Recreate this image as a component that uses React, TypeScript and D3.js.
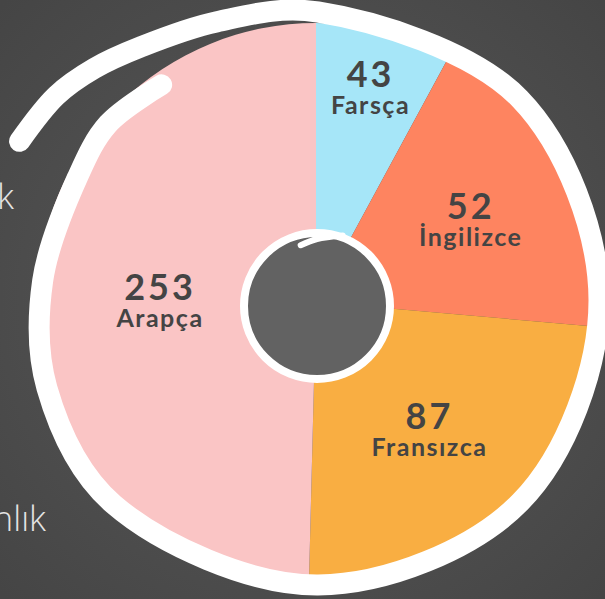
import { useEffect, useRef } from 'react'
import * as d3 from 'd3'

const languages = ['Farsça', 'İngilizce', 'Fransızca', 'Arapça']
const counts = [43, 52, 87, 253]
// sweep of each slice as drawn in the picture (percent of the circle) - the drawing is not to scale
const sliceShare = [7.9, 18.5, 24.0, 49.6]
const sliceColors = ['#a6e6f8', '#fe8460', '#f9ae42', '#fac5c5']
const sideWords = ['k', 'nlık']

// hand drawn ring round the donut: [angle deg, radius]
const ringPoints: [number, number][] = [
  [298, 338], [308, 332], [316, 322], [325, 309], [340, 296], [360, 288],
  [405, 285], [450, 281], [495, 286], [540, 285], [585, 289], [612, 285],
  [634, 276], [657, 270], [670, 274], [684, 266]
]

export default function App() {
  const svgRef = useRef<SVGSVGElement>(null)

  useEffect(() => {
    if (!svgRef.current) return
    const width = 605
    const height = 599

    const svg = d3.select(svgRef.current)
    svg.selectAll('*').remove()
    svg.attr('width', width).attr('height', height)

    // chalkboard background
    const defs = svg.append('defs')
    const bg = defs.append('radialGradient').attr('id', 'board')
      .attr('cx', '50%').attr('cy', '50%').attr('r', '70%')
    bg.append('stop').attr('offset', '0%').attr('stop-color', '#5a5a5a')
    bg.append('stop').attr('offset', '100%').attr('stop-color', '#454545')

    svg.append('rect')
      .attr('width', width)
      .attr('height', height)
      .attr('fill', 'url(#board)')

    // clipped words from the slide behind
    svg.append('g')
      .selectAll('text')
      .data(sideWords)
      .enter().append('text')
      .text(d => d)
      .attr('x', (d, i) => i === 0 ? 14 : 46)
      .attr('y', (d, i) => i === 0 ? 209 : 531)
      .attr('text-anchor', 'end')
      .style('font-family', '"Open Sans", sans-serif')
      .style('font-weight', '300')
      .style('font-size', '35px')
      .style('fill', '#e4e4e4')

    const cx = 316
    const cy = 302
    const outerR = 279

    const pie = d3.pie<number>().sort(null).value(d => d)
    const arcs = pie(sliceShare)

    const arc = d3.arc<d3.PieArcDatum<number>>()
      .innerRadius(60)
      .outerRadius(outerR)

    const g = svg.append('g').attr('transform', `translate(${cx},${cy})`)

    g.selectAll('path')
      .data(arcs)
      .enter().append('path')
      .attr('d', arc)
      .attr('fill', (d, i) => sliceColors[i])

    // narrow slices get their label further out
    const labelR = d3.scaleLinear().domain([0.5, 1.2, 3.1]).range([222, 173, 156]).clamp(true)

    const labels = g.selectAll('g.lbl')
      .data(arcs)
      .enter().append('g')
      .attr('class', 'lbl')
      .attr('transform', d => {
        const mid = (d.startAngle + d.endAngle) / 2
        const r = labelR(d.endAngle - d.startAngle)
        return `translate(${Math.sin(mid) * r},${-Math.cos(mid) * r})`
      })
      .style('font-family', 'Lato, sans-serif')
      .style('font-weight', '700')
      .style('fill', '#444444')
      .attr('text-anchor', 'middle')

    labels.append('text')
      .text((d, i) => counts[i])
      .attr('y', 0)
      .style('font-size', '36px')
      .style('letter-spacing', '3px')

    labels.append('text')
      .text((d, i) => languages[i])
      .attr('y', 27)
      .style('font-size', '25px')
      .style('letter-spacing', '1.5px')

    // hand drawn outer ring
    const ring = d3.lineRadial<[number, number]>()
      .angle(d => d[0] * Math.PI / 180)
      .radius(d => d[1])
      .curve(d3.curveCatmullRom)

    svg.append('path')
      .attr('transform', 'translate(318,300)')
      .attr('d', ring(ringPoints))
      .attr('fill', 'none')
      .attr('stroke', '#ffffff')
      .attr('stroke-width', 21)
      .attr('stroke-linecap', 'round')
      .attr('stroke-linejoin', 'round')

    // centre hole
    const hole = svg.append('g').attr('transform', 'translate(317,306)')
    hole.append('circle')
      .attr('r', 73)
      .attr('fill', '#626262')
      .attr('stroke', '#ffffff')
      .attr('stroke-width', 8)

    hole.append('path')
      .attr('d', ring([[-15, 63], [0, 67], [20, 75]]))
      .attr('fill', 'none')
      .attr('stroke', '#ffffff')
      .attr('stroke-width', 6)
      .attr('stroke-linecap', 'round')
  }, [])

  return (
    <div style={{ position: 'absolute', left: 0, top: 0, width: 605, height: 599, overflow: 'hidden' }}>
      <svg ref={svgRef} style={{ display: 'block' }}></svg>
    </div>
  )
}
